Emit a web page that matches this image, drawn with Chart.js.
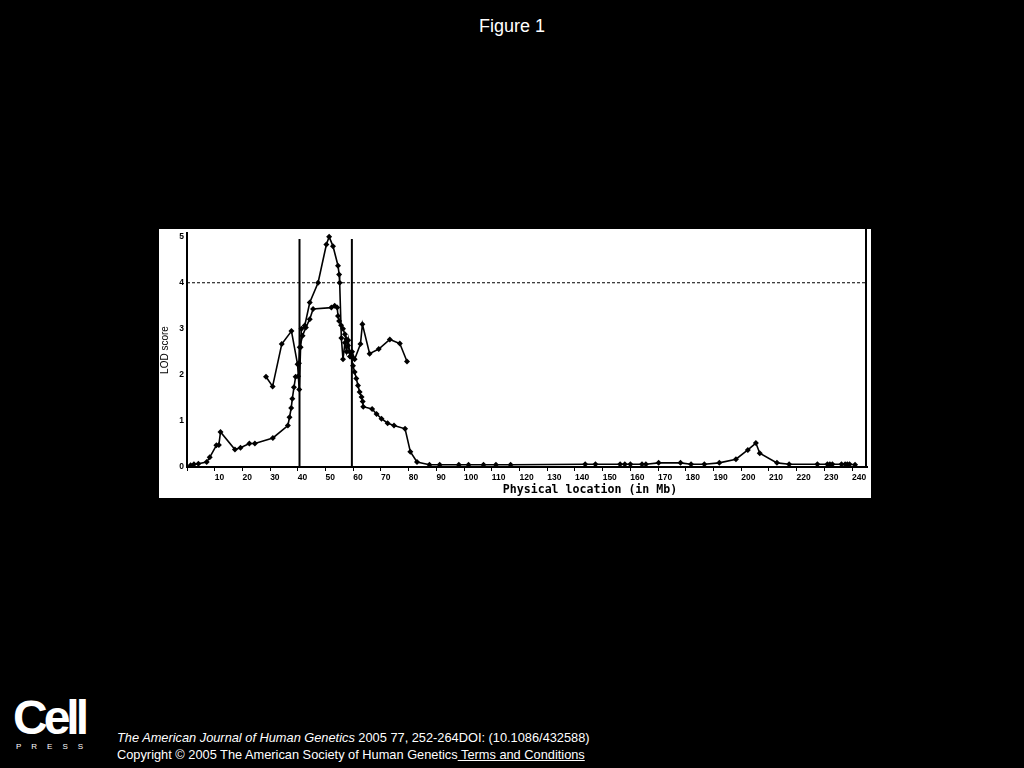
<!DOCTYPE html>
<html>
<head>
<meta charset="utf-8">
<script src="https://cdn.jsdelivr.net/npm/chart.js@4"></script>
<style>
  body {
    margin: 0;
    width: 1024px;
    height: 768px;
    background: #000;
    overflow: hidden;
    position: relative;
    font-family: 'Liberation Sans', Arial, sans-serif;
    color: #fff;
  }
  .fig-title {
    position: absolute;
    top: 16px;
    left: 0;
    width: 1024px;
    text-align: center;
    font-size: 18px;
  }
  .chart-box {
    position: absolute;
    left: 159px;
    top: 229px;
    width: 712px;
    height: 269px;
    background: #fff;
  }
  .logo {
    position: absolute;
    left: 13px;
    top: 694px;
    font-weight: bold;
    font-size: 48px;
    letter-spacing: -4px;
    line-height: 48px;
  }
  .logo-sub {
    position: absolute;
    left: 16px;
    top: 742px;
    font-size: 8px;
    letter-spacing: 10px;
  }
  .cite {
    position: absolute;
    left: 117px;
    font-size: 12.8px;
  }
  .cite a { color: #fff; }
</style>
</head>
<body>
<div class="fig-title">Figure 1</div>
<div class="chart-box"><canvas id="lod-chart"></canvas></div>
<div class="logo">Cell</div>
<div class="logo-sub">PRESS</div>
<div class="cite" style="top:730px"><i>The American Journal of Human Genetics</i> 2005 77, 252-264DOI: (10.1086/432588)</div>
<div class="cite" style="top:747px">Copyright © 2005 The American Society of Human Genetics<a href="#"> Terms and Conditions</a></div>

<script>
// genome-wide scan (Mb, LOD)
const scanMb = [1.3, 2.5, 4.1, 7.1, 8.2, 10.6, 11.5, 12.1, 17.3, 19.3,
  22.5, 24.5, 31.0, 36.4, 37.0, 37.6, 38.0, 38.6, 39.2, 40.1,
  40.4, 40.7, 41.7, 42.9, 44.3, 45.5, 52.1, 53.3, 54.2, 54.5,
  54.9, 55.6, 56.3, 57.0, 57.5, 58.1, 58.7, 59.3, 59.9, 60.5,
  61.1, 61.7, 62.3, 63.0, 63.4, 63.6, 66.8, 68.4, 70.2, 72.4,
  74.7, 78.7, 80.6, 83.0, 87.5, 91.2, 98.1, 101.6, 107.0, 111.5,
  116.8, 143.7, 147.4, 156.3, 158.0, 160.0, 164.2, 165.6, 170.2, 178.1,
  181.9, 186.7, 192.1, 198.1, 202.4, 205.3, 206.7, 212.9, 217.3, 227.5,
  231.1, 232.0, 232.9, 236.2, 237.5, 238.3, 239.1, 241.1];
const scanLod = [0.04, 0.06, 0.07, 0.11, 0.21, 0.47, 0.48, 0.76, 0.38, 0.42,
  0.51, 0.51, 0.63, 0.90, 1.08, 1.28, 1.48, 1.73, 1.96, 1.97,
  2.25, 2.60, 2.85, 3.03, 3.21, 3.43, 3.46, 3.50, 3.46, 3.28,
  3.17, 3.08, 3.00, 2.88, 2.78, 2.64, 2.50, 2.39, 2.20, 2.06,
  1.92, 1.77, 1.63, 1.52, 1.42, 1.31, 1.26, 1.15, 1.05, 0.95,
  0.90, 0.83, 0.33, 0.11, 0.05, 0.05, 0.05, 0.05, 0.05, 0.05,
  0.05, 0.06, 0.06, 0.06, 0.06, 0.06, 0.06, 0.06, 0.09, 0.09,
  0.06, 0.06, 0.09, 0.17, 0.37, 0.52, 0.30, 0.09, 0.06, 0.06,
  0.06, 0.06, 0.06, 0.06, 0.06, 0.06, 0.06, 0.05];

// fine-mapping scan
const fineMb = [28.5, 30.9, 34.2, 37.7, 39.9, 40.5, 41.0, 41.3, 42.5, 44.3,
  47.3, 50.3, 51.3, 52.7, 54.5, 54.9, 55.1, 55.7, 56.3, 57.0,
  57.6, 58.2, 58.8, 59.6, 60.5, 62.6, 63.3, 65.9, 69.2, 73.2,
  76.8, 79.4];
const fineLod = [1.96, 1.75, 2.67, 2.95, 2.23, 1.68, 2.60, 3.00, 3.07, 3.57,
  4.00, 4.83, 5.00, 4.79, 4.37, 4.18, 4.00, 2.80, 2.34, 2.70,
  2.50, 2.75, 2.40, 2.50, 2.34, 2.67, 3.10, 2.46, 2.56, 2.77,
  2.68, 2.29];

const intervalMb = [40.6, 59.5];
const intervalTop = 4.95;
const threshold = 4;
const xMin = 0;
const xMax = 245.4;
const yMax = 5.08;

const toPoints = (xs, ys) => xs.map((x, i) => ({ x: x, y: ys[i] }));

const lineStyle = {
  borderColor: '#000',
  backgroundColor: '#000',
  borderWidth: 1.6,
  pointStyle: 'rectRot',
  pointRadius: 3,
  pointBorderWidth: 0,
  tension: 0,
};

const datasets = [
  { label: 'scan', data: toPoints(scanMb, scanLod), ...lineStyle },
  { label: 'fine', data: toPoints(fineMb, fineLod), ...lineStyle },
  {
    label: 'threshold',
    data: [{ x: xMin, y: threshold }, { x: xMax, y: threshold }],
    borderColor: '#000',
    borderWidth: 1.2,
    borderDash: [3, 2],
    pointRadius: 0,
  },
];
intervalMb.forEach((mb) => {
  datasets.push({
    label: 'interval',
    data: [{ x: mb, y: 0 }, { x: mb, y: intervalTop }],
    borderColor: '#000',
    borderWidth: 2,
    pointRadius: 0,
  });
});

// right frame line and x title placed off-centre like the original
const framePlugin = {
  id: 'frame',
  afterDraw: (chart) => {
    const { ctx, chartArea } = chart;
    ctx.save();
    ctx.strokeStyle = '#000';
    ctx.lineWidth = 2;
    ctx.beginPath();
    ctx.moveTo(chartArea.right - 1, 0);
    ctx.lineTo(chartArea.right - 1, chartArea.bottom);
    ctx.stroke();
    ctx.fillStyle = '#000';
    ctx.font = 'bold 11.6px "DejaVu Sans Mono", monospace';
    ctx.textAlign = 'center';
    ctx.textBaseline = 'middle';
    ctx.fillText('Physical location (in Mb)', 431, 261);
    ctx.restore();
  },
};

const tickFont = { family: '"Liberation Sans", Arial, sans-serif', size: 8.5, weight: 'bold' };

new Chart(document.getElementById('lod-chart'), {
  type: 'line',
  data: { datasets: datasets },
  options: {
    responsive: true,
    maintainAspectRatio: false,
    animation: false,
    layout: { padding: { top: 2, right: 1, left: 0, bottom: 0 } },
    plugins: {
      legend: { display: false },
      tooltip: { enabled: false },
    },
    scales: {
      x: {
        type: 'linear',
        min: xMin,
        max: xMax,
        grid: { drawOnChartArea: false, drawTicks: true, tickLength: 4, color: '#000' },
        border: { color: '#000', width: 2 },
        ticks: {
          stepSize: 10,
          includeBounds: false,
          autoSkip: false,
          maxRotation: 0,
          align: 'start',
          padding: 2,
          color: '#000',
          font: tickFont,
          callback: (v) => (v === 0 ? '' : v),
        },
        afterFit: (s) => {
          s.height = 31;
          s.paddingLeft = 0;
          s.paddingRight = 0;
        },
      },
      y: {
        min: 0,
        max: yMax,
        grid: { display: false, drawTicks: false },
        border: { color: '#000', width: 2 },
        ticks: {
          stepSize: 1,
          includeBounds: false,
          padding: 3,
          color: '#000',
          font: tickFont,
        },
        title: {
          display: true,
          text: 'LOD score',
          color: '#000',
          padding: { top: 0, bottom: 0 },
          font: { family: '"Liberation Sans", Arial, sans-serif', size: 10 },
        },
        afterFit: (s) => {
          s.width = 28;
          s.paddingTop = 0;
          s.paddingBottom = 0;
        },
      },
    },
  },
  plugins: [framePlugin],
});
</script>
</body>
</html>
